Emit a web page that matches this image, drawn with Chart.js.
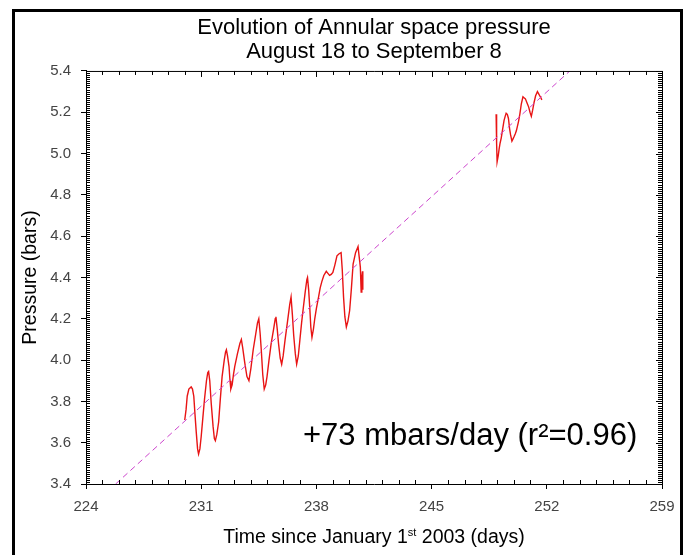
<!DOCTYPE html>
<html>
<head>
<meta charset="utf-8">
<title>Annular space pressure</title>
<script src="https://cdn.jsdelivr.net/npm/chart.js@4.4.1/dist/chart.umd.min.js"></script>
<style>
	body { margin: 0; background: #fff; }
	#wrap { position: relative; width: 684px; height: 555px; overflow: hidden; font-family: "Liberation Sans", Arial, sans-serif; }
	#frame { position: absolute; left: 12px; top: 9px; width: 671px; height: 560px; box-sizing: border-box; border: 3px solid #000; pointer-events: none; }
	#xtitle { position: absolute; left: 86px; width: 576px; top: 527px; text-align: center; font-size: 19.5px; line-height: 19.5px; color: #000; }
	#xtitle sup { font-size: 11px; vertical-align: 7px; line-height: 0; }
	#slope { position: absolute; left: 303px; top: 419px; font-size: 31px; line-height: 31px; color: #000; white-space: nowrap; }
</style>
</head>
<body>
<div id="wrap">
	<canvas id="pressure-chart" width="684" height="555"></canvas>
	<div id="xtitle">Time since January 1<sup>st</sup> 2003 (days)</div>
	<div id="slope">+73 mbars/day (r²=0.96)</div>
	<div id="frame"></div>
</div>
<script>
// first record, days 230 - 241
var days1 = [230.00, 230.08, 230.15, 230.25, 230.39, 230.47, 230.55, 230.62, 230.70, 230.78,
	230.84, 230.92, 231.00, 231.10, 231.20, 231.32, 231.40, 231.45, 231.52, 231.61,
	231.72, 231.80, 231.86, 231.95, 232.06, 232.16, 232.27, 232.40, 232.48, 232.53,
	232.60, 232.69, 232.75, 232.80, 232.88, 232.96, 233.04, 233.20, 233.35, 233.44,
	233.52, 233.65, 233.78, 233.90, 234.02, 234.16, 234.30, 234.42, 234.50, 234.58,
	234.65, 234.74, 234.83, 234.92, 235.00, 235.12, 235.25, 235.40, 235.50, 235.54,
	235.62, 235.70, 235.80, 235.89, 235.98, 236.10, 236.25, 236.38, 236.46, 236.54,
	236.62, 236.72, 236.80, 236.90, 237.00, 237.10, 237.20, 237.32, 237.42, 237.46,
	237.53, 237.60, 237.66, 237.73, 237.82, 237.90, 238.00, 238.13, 238.23, 238.33,
	238.45, 238.60, 238.70, 238.80, 238.90, 239.00, 239.12, 239.25, 239.38, 239.50,
	239.57, 239.65, 239.73, 239.82, 239.92, 240.02, 240.12, 240.23, 240.38, 240.53,
	240.60, 240.67, 240.72, 240.76, 240.80, 240.82];
var pressure1 = [3.71, 3.76, 3.825, 3.86, 3.87, 3.86, 3.825, 3.74, 3.65, 3.57,
	3.545, 3.57, 3.63, 3.72, 3.81, 3.90, 3.94, 3.945, 3.90, 3.79,
	3.68, 3.62, 3.61, 3.64, 3.70, 3.81, 3.92, 4.00, 4.04, 4.05,
	4.02, 3.97, 3.90, 3.86, 3.88, 3.93, 3.97, 4.03, 4.08, 4.10,
	4.06, 3.985, 3.92, 3.90, 3.96, 4.05, 4.12, 4.18, 4.20, 4.13,
	4.05, 3.93, 3.86, 3.88, 3.92, 4.00, 4.08, 4.15, 4.20, 4.21,
	4.15, 4.08, 4.01, 3.98, 4.02, 4.10, 4.19, 4.27, 4.305, 4.22,
	4.12, 4.03, 3.98, 4.02, 4.10, 4.18, 4.25, 4.33, 4.39, 4.40,
	4.34, 4.25, 4.16, 4.11, 4.15, 4.20, 4.25, 4.305, 4.35, 4.38,
	4.41, 4.43, 4.42, 4.41, 4.415, 4.425, 4.46, 4.505, 4.515, 4.52,
	4.44, 4.305, 4.21, 4.16, 4.19, 4.24, 4.34, 4.465, 4.52, 4.55,
	4.50, 4.45, 4.33, 4.40, 4.43, 4.34];

// second record, days 249 - 252
var days2 = [248.92, 248.95, 248.98, 249.05, 249.10, 249.16, 249.23, 249.32, 249.40, 249.47,
	249.53, 249.60, 249.67, 249.74, 249.80, 249.88, 249.94, 250.00, 250.08, 250.15,
	250.28, 250.36, 250.45, 250.55, 250.62, 250.70, 250.80, 250.90, 250.98, 251.06,
	251.14, 251.22, 251.32, 251.43, 251.50, 251.57, 251.64, 251.70];
var pressure2 = [5.19, 5.05, 4.96, 4.99, 5.02, 5.05, 5.075, 5.12, 5.16, 5.18,
	5.195, 5.19, 5.17, 5.12, 5.09, 5.06, 5.07, 5.08, 5.095, 5.11,
	5.155, 5.19, 5.24, 5.275, 5.27, 5.265, 5.245, 5.225, 5.20, 5.18,
	5.21, 5.245, 5.28, 5.30, 5.29, 5.28, 5.27, 5.26];

// linear fit, +73 mbars/day
var trendDays = [225.8, 253.4];
var trendPressure = [3.4, 5.4];

var titleLines = ["Evolution of Annular space pressure", "August 18 to September 8"];
var yTitle = "Pressure (bars)";
var dayMin = 224, dayMax = 259, dayStep = 7;
var pMin = 3.4, pMax = 5.4, pStep = 0.2;

function toPoints(xs, ys) {
	return xs.map(function (x, i) { return { x: x, y: ys[i] }; });
}

// box round the plot with small ticks, like the original plot
var frameTicks = {
	id: "frameTicks",
	afterDraw: function (chart) {
		var ctx = chart.ctx, a = chart.chartArea;
		var xs = chart.scales.x, ys = chart.scales.y;
		ctx.save();
		ctx.strokeStyle = "#000";
		ctx.lineWidth = 1;
		ctx.beginPath();
		ctx.moveTo(a.left, a.top + 0.5);
		ctx.lineTo(a.right + 0.5, a.top + 0.5);
		ctx.lineTo(a.right + 0.5, a.bottom);
		for (var d = dayMin; d <= dayMax; d++) {
			var px = Math.round(xs.getPixelForValue(d)) + 0.5;
			var major = (d - dayMin) % dayStep === 0;
			if (!major) {
				ctx.moveTo(px, a.bottom);
				ctx.lineTo(px, a.bottom - 4);
			}
			ctx.moveTo(px, a.top);
			ctx.lineTo(px, a.top + (major ? 6 : 4));
		}
		var n = Math.round((pMax - pMin) / 0.01);
		for (var i = 0; i <= n; i++) {
			var py = Math.round(ys.getPixelForValue(pMin + i * 0.01)) + 0.5;
			var big = i % 20 === 0;
			ctx.moveTo(a.left, py);
			ctx.lineTo(a.left + 4, py);
			ctx.moveTo(a.right, py);
			ctx.lineTo(a.right - (big ? 6 : 4), py);
		}
		ctx.stroke();
		ctx.restore();
	}
};

var tickFont = { family: "'Liberation Sans', Arial, sans-serif", size: 15 };

var ctx = document.getElementById("pressure-chart").getContext("2d");
var pressureChart = new Chart(ctx, {
	type: "scatter",
	data: {
		datasets: [
			{
				label: "Fit",
				data: toPoints(trendDays, trendPressure),
				showLine: true,
				borderColor: "#cc44cc",
				borderWidth: 1,
				borderDash: [6, 4],
				pointRadius: 0,
			},
			{
				label: "Pressure 1",
				data: toPoints(days1, pressure1),
				showLine: true,
				borderColor: "#e81414",
				borderWidth: 1.4,
				pointRadius: 0,
			},
			{
				label: "Pressure 2",
				data: toPoints(days2, pressure2),
				showLine: true,
				borderColor: "#e81414",
				borderWidth: 1.4,
				pointRadius: 0,
			},
		],
	},
	options: {
		responsive: false,
		animation: false,
		layout: { padding: { top: 0, left: 0, right: 22, bottom: 0 } },
		plugins: {
			legend: { display: false },
			tooltip: { enabled: false },
			title: {
				display: true,
				text: titleLines,
				fullSize: false,
				color: "#000",
				font: { family: "'Liberation Sans', Arial, sans-serif", size: 22, weight: "normal", lineHeight: 1.09 },
				padding: { top: 16, bottom: 7 },
			},
		},
		scales: {
			x: {
				type: "linear",
				min: dayMin,
				max: dayMax,
				ticks: { stepSize: dayStep, font: tickFont, color: "#444", padding: 9, maxRotation: 0 },
				grid: { drawOnChartArea: false, tickLength: 5, tickColor: "#000" },
				border: { color: "#000", width: 1 },
				afterFit: function (s) { s.height = 71; s.paddingLeft = 0; s.paddingRight = 0; },
			},
			y: {
				min: pMin,
				max: pMax,
				ticks: {
					stepSize: pStep, font: tickFont, color: "#444", padding: 10,
					callback: function (v) { return v.toFixed(1); },
				},
				grid: { drawOnChartArea: false, tickLength: 5, tickColor: "#000" },
				border: { color: "#000", width: 1 },
				title: {
					display: true,
					text: yTitle,
					color: "#000",
					font: { family: "'Liberation Sans', Arial, sans-serif", size: 19.5 },
					padding: { top: 19, bottom: 0 },
				},
				afterFit: function (s) { s.width = 86; s.paddingTop = 0; s.paddingBottom = 0; },
			},
		},
	},
	plugins: [frameTicks],
});
</script>
</body>
</html>
